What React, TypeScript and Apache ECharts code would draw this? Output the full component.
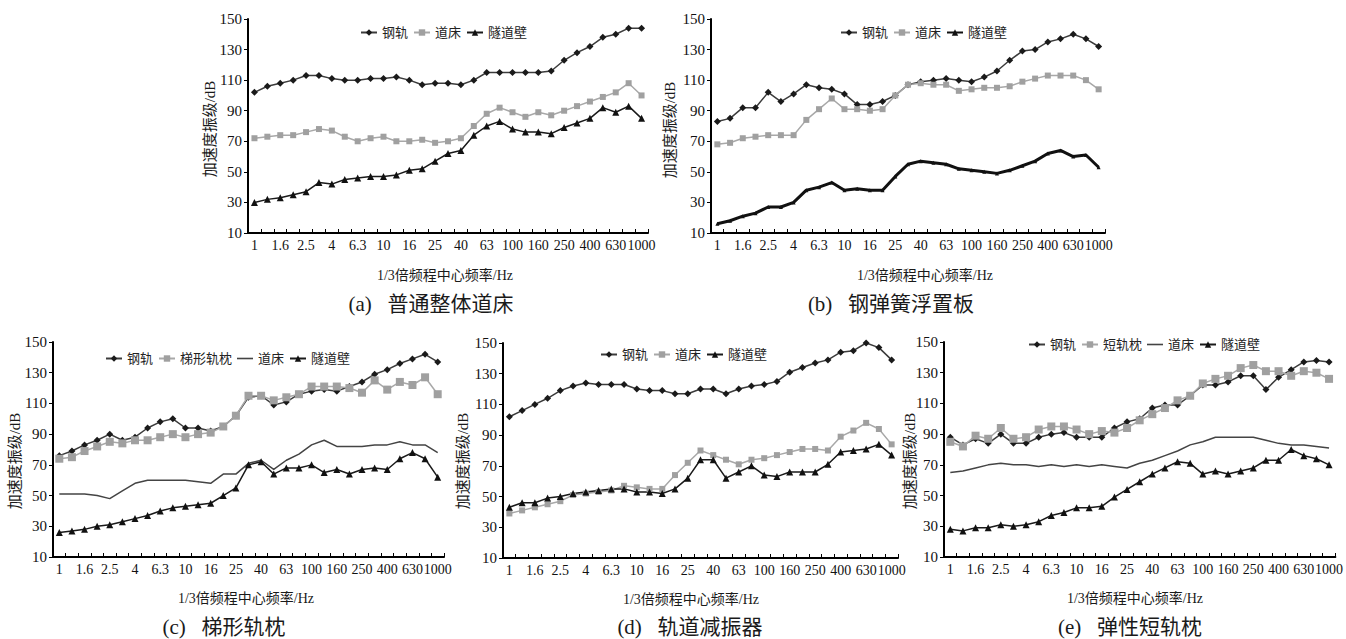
import React, { useEffect, useRef } from "react";
import * as echarts from "echarts";

const freqBands = ["1", "1.25", "1.6", "2", "2.5", "3.15", "4", "5", "6.3", "8", "10", "12.5", "16", "20", "25", "31.5", "40", "50", "63", "80", "100", "125", "160", "200", "250", "315", "400", "500", "630", "800", "1000"];
const yTicks = { min: 10, max: 150, interval: 20 };

const aRail = [102, 106, 108, 110, 113, 113, 111, 110, 110, 111, 111, 112, 110, 107, 108, 108, 107, 110, 115, 115, 115, 115, 115, 116, 123, 128, 132, 138, 140, 144, 144];
const aBed = [72, 73, 74, 74, 76, 78, 77, 73, 70, 72, 73, 70, 70, 71, 69, 70, 72, 80, 88, 92, 89, 86, 89, 87, 90, 93, 96, 99, 102, 108, 100];
const aWall = [30, 32, 33, 35, 37, 43, 42, 45, 46, 47, 47, 48, 51, 52, 57, 62, 64, 74, 80, 83, 78, 76, 76, 75, 79, 82, 85, 92, 89, 93, 85];

const bRail = [83, 85, 92, 92, 102, 96, 101, 107, 105, 104, 101, 94, 94, 96, 100, 107, 109, 110, 111, 110, 109, 112, 116, 123, 129, 130, 135, 137, 140, 137, 132];
const bBed = [68, 69, 72, 73, 74, 74, 74, 84, 91, 98, 91, 91, 90, 91, 100, 107, 108, 107, 107, 103, 104, 105, 105, 106, 109, 111, 113, 113, 113, 110, 104];
const bWall = [16, 18, 21, 23, 27, 27, 30, 38, 40, 43, 38, 39, 38, 38, 47, 55, 57, 56, 55, 52, 51, 50, 49, 51, 54, 57, 62, 64, 60, 61, 53];

const cRail = [76, 79, 83, 86, 90, 86, 88, 94, 98, 100, 94, 94, 92, 95, 102, 114, 115, 109, 111, 116, 118, 119, 118, 121, 124, 129, 132, 136, 139, 142, 137];
const cSleeper = [74, 75, 79, 82, 85, 84, 86, 86, 88, 90, 88, 90, 91, 95, 102, 115, 115, 112, 114, 116, 121, 121, 121, 120, 117, 125, 119, 124, 122, 127, 116];
const cBed = [51, 51, 51, 50, 48, 53, 58, 60, 60, 60, 60, 59, 58, 64, 64, 71, 73, 67, 73, 77, 83, 86, 82, 82, 82, 83, 83, 85, 83, 83, 78];
const cWall = [26, 27, 28, 30, 31, 33, 35, 37, 40, 42, 43, 44, 45, 50, 55, 70, 72, 64, 68, 68, 70, 65, 67, 64, 67, 68, 67, 74, 78, 74, 62];

const dRail = [102, 106, 110, 114, 119, 122, 124, 123, 123, 123, 120, 119, 119, 117, 117, 120, 120, 117, 120, 122, 123, 125, 131, 134, 137, 139, 144, 145, 150, 147, 139];
const dBed = [39, 41, 43, 45, 47, 51, 52, 53, 54, 57, 56, 55, 55, 64, 72, 80, 77, 74, 71, 74, 75, 77, 79, 81, 81, 80, 89, 93, 98, 94, 84];
const dWall = [43, 46, 46, 49, 50, 52, 53, 54, 55, 55, 53, 53, 52, 55, 62, 74, 74, 62, 66, 70, 64, 63, 66, 66, 66, 71, 79, 80, 81, 84, 77];

const eRail = [88, 83, 87, 84, 90, 84, 84, 88, 90, 91, 88, 88, 88, 94, 98, 100, 107, 109, 109, 115, 122, 122, 124, 128, 128, 119, 127, 132, 137, 138, 137];
const eSleeper = [85, 82, 89, 87, 94, 87, 88, 93, 95, 95, 93, 90, 92, 91, 94, 99, 103, 107, 112, 115, 123, 126, 128, 133, 135, 131, 131, 128, 131, 130, 126];
const eBed = [65, 66, 68, 70, 71, 70, 70, 69, 70, 69, 70, 69, 70, 69, 68, 71, 73, 76, 79, 83, 85, 88, 88, 88, 88, 86, 84, 83, 83, 82, 81];
const eWall = [28, 27, 29, 29, 31, 30, 31, 33, 37, 39, 42, 42, 43, 49, 54, 59, 64, 68, 72, 71, 64, 66, 64, 66, 68, 73, 73, 80, 76, 74, 70];

const yTitle = "加速度振级/dB";
const xTitle = "1/3倍频程中心频率/Hz";

const FONT = "'Liberation Serif', 'Noto Sans CJK SC', serif";

type Kind = "rail" | "bed" | "wall" | "wallThick" | "sleeper" | "bedLine";

const styleOf = (kind: Kind) => {
  switch (kind) {
    case "rail":
      return { symbol: "diamond", symbolSize: 7, lineStyle: { color: "#3c3c3c", width: 1.5 }, itemStyle: { color: "#1a1a1a" } };
    case "bed":
      return { symbol: "rect", symbolSize: 6, lineStyle: { color: "#a8a8a8", width: 1.5 }, itemStyle: { color: "#a0a0a0" } };
    case "sleeper":
      return { symbol: "rect", symbolSize: 8, lineStyle: { color: "#a8a8a8", width: 1.5 }, itemStyle: { color: "#a0a0a0" } };
    case "wall":
      return { symbol: "triangle", symbolSize: 7, lineStyle: { color: "#1a1a1a", width: 1.5 }, itemStyle: { color: "#111111" } };
    case "wallThick":
      return { symbol: "triangle", symbolSize: 4, lineStyle: { color: "#111111", width: 3 }, itemStyle: { color: "#111111" } };
    case "bedLine":
    default:
      return { symbol: "none", lineStyle: { color: "#444444", width: 1.5 }, itemStyle: { color: "#444444" } };
  }
};

interface PanelDef {
  series: { name: string; data: number[]; kind: Kind }[];
  grid: { left: number; top: number; width: number; height: number };
  legend: { left: number; top: number };
  yName: { x: number; y: number };
  xName: { x: number; y: number };
  caption: { x: number; y: number; text: string };
}

const panels: PanelDef[] = [
  {
    series: [
      { name: "钢轨", data: aRail, kind: "rail" },
      { name: "道床", data: aBed, kind: "bed" },
      { name: "隧道壁", data: aWall, kind: "wall" },
    ],
    grid: { left: 248, top: 19, width: 400, height: 214 },
    legend: { left: 360, top: 26 },
    yName: { x: 210, y: 129 },
    xName: { x: 445, y: 275 },
    caption: { x: 431, y: 304, text: "(a)   普通整体道床" },
  },
  {
    series: [
      { name: "钢轨", data: bRail, kind: "rail" },
      { name: "道床", data: bBed, kind: "bed" },
      { name: "隧道壁", data: bWall, kind: "wallThick" },
    ],
    grid: { left: 711, top: 19, width: 394, height: 214 },
    legend: { left: 840, top: 26 },
    yName: { x: 670, y: 130 },
    xName: { x: 925, y: 275 },
    caption: { x: 891, y: 304, text: "(b)   钢弹簧浮置板" },
  },
  {
    series: [
      { name: "钢轨", data: cRail, kind: "rail" },
      { name: "梯形轨枕", data: cSleeper, kind: "sleeper" },
      { name: "道床", data: cBed, kind: "bedLine" },
      { name: "隧道壁", data: cWall, kind: "wall" },
    ],
    grid: { left: 53, top: 342, width: 391, height: 215 },
    legend: { left: 105, top: 352 },
    yName: { x: 15, y: 461 },
    xName: { x: 246, y: 598 },
    caption: { x: 224, y: 627, text: "(c)   梯形轨枕" },
  },
  {
    series: [
      { name: "钢轨", data: dRail, kind: "rail" },
      { name: "道床", data: dBed, kind: "bed" },
      { name: "隧道壁", data: dWall, kind: "wall" },
    ],
    grid: { left: 503, top: 343, width: 395, height: 215 },
    legend: { left: 600, top: 348 },
    yName: { x: 463, y: 461 },
    xName: { x: 691, y: 599 },
    caption: { x: 690, y: 627, text: "(d)   轨道减振器" },
  },
  {
    series: [
      { name: "钢轨", data: eRail, kind: "rail" },
      { name: "短轨枕", data: eSleeper, kind: "sleeper" },
      { name: "道床", data: eBed, kind: "bedLine" },
      { name: "隧道壁", data: eWall, kind: "wall" },
    ],
    grid: { left: 944, top: 342, width: 394, height: 215 },
    legend: { left: 1028, top: 338 },
    yName: { x: 910, y: 461 },
    xName: { x: 1135, y: 598 },
    caption: { x: 1130, y: 627, text: "(e)   弹性短轨枕" },
  },
];

const textEl = (x: number, y: number, text: string, fontSize: number, rotation = 0) => ({
  type: "text",
  x,
  y,
  rotation,
  silent: true,
  style: {
    text,
    fontSize,
    fontFamily: FONT,
    fill: "#1a1a1a",
    textAlign: "center",
    textVerticalAlign: "middle",
    align: "center",
    verticalAlign: "middle",
  },
});

const LINE_ICON = "path://M0,0 L20,0 L20,2 L0,2 Z";

function buildOption(p: PanelDef) {
  return {
    animation: false,
    backgroundColor: "transparent",
    grid: { ...p.grid, containLabel: false },
    legend: {
      left: p.legend.left,
      top: p.legend.top,
      padding: 0,
      itemWidth: 16,
      itemHeight: 8,
      itemGap: 5,
      data: p.series.map((s) => (s.kind === "bedLine" ? { name: s.name, icon: LINE_ICON } : { name: s.name })),
      textStyle: { fontSize: 13, fontFamily: FONT, color: "#222" },
    },
    xAxis: {
      type: "category",
      data: freqBands,
      boundaryGap: true,
      axisLine: { show: true, lineStyle: { color: "#000", width: 2 } },
      axisTick: { show: true, inside: true, length: 4, interval: 0, lineStyle: { color: "#000", width: 1 } },
      axisLabel: { interval: 1, margin: 5, fontSize: 14, fontFamily: FONT, color: "#111" },
      splitLine: { show: false },
    },
    yAxis: {
      type: "value",
      min: yTicks.min,
      max: yTicks.max,
      interval: yTicks.interval,
      axisLine: { show: true, lineStyle: { color: "#000", width: 2 } },
      axisTick: { show: true, length: 4, lineStyle: { color: "#000", width: 1 } },
      axisLabel: { margin: 6, fontSize: 15, fontFamily: FONT, color: "#111" },
      splitLine: { show: false },
    },
    series: p.series.map((s) => ({
      type: "line",
      name: s.name,
      data: s.data,
      showSymbol: s.kind !== "bedLine",
      ...styleOf(s.kind),
    })),
    graphic: [
      textEl(p.yName.x, p.yName.y, yTitle, 15, Math.PI / 2),
      textEl(p.xName.x, p.xName.y, xTitle, 14),
      textEl(p.caption.x, p.caption.y, p.caption.text, 21),
    ],
  };
}

function Panel({ def }: { def: PanelDef }) {
  const ref = useRef<HTMLDivElement>(null);
  useEffect(() => {
    if (!ref.current) return;
    const chart = echarts.init(ref.current, undefined, { renderer: "svg" });
    chart.setOption(buildOption(def) as any);
    return () => chart.dispose();
  }, [def]);
  return (
    <div
      ref={ref}
      style={{ position: "absolute", left: 0, top: 0, width: 1346, height: 639, pointerEvents: "none" }}
    />
  );
}

export default function App() {
  return (
    <div style={{ position: "absolute", left: 0, top: 0, width: 1346, height: 639, background: "#fff" }}>
      {panels.map((p, i) => (
        <Panel key={i} def={p} />
      ))}
    </div>
  );
}
